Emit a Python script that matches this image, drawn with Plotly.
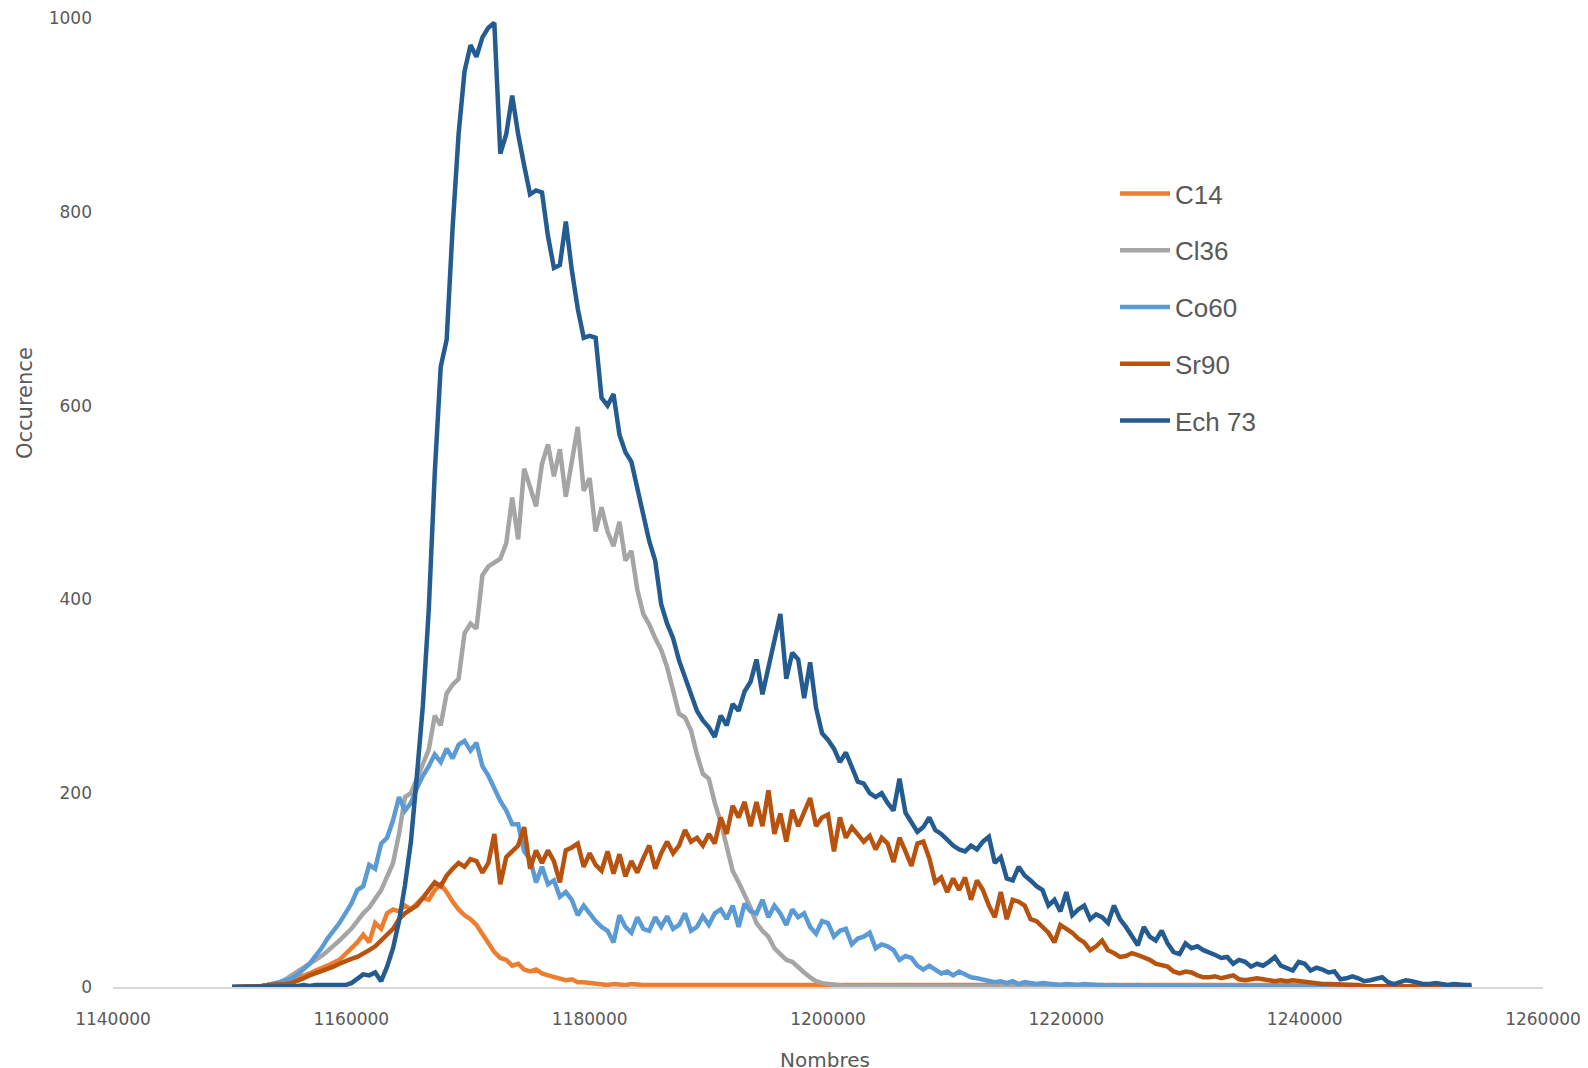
import plotly.graph_objects as go

# ---- data ----
X_START = 1150000
X_STEP = 500

ech73 = [
    0, 0, 1, 0, 1, 1, 0, 1, 1, 1,
    1, 1, 2, 1, 2, 2, 2, 2, 3, 2,
    4, 8, 13, 12, 15, 6, 21, 40, 68, 105,
    150, 218, 290, 390, 530, 640, 668, 784, 880, 945,
    972, 960, 980, 990, 995, 860, 880, 920, 880, 848,
    818, 822, 820, 775, 742, 745, 790, 740, 700, 670,
    672, 670, 608, 600, 612, 570, 552, 542, 515, 490,
    460, 440, 395, 375, 360, 337, 320, 303, 285, 275,
    268, 258, 280, 270, 292, 285, 305, 315, 338, 302,
    330, 355, 385, 318, 345, 338, 298, 335, 288, 262,
    255, 246, 232, 242, 228, 212, 210, 200, 196, 200,
    190, 182, 215, 180, 170, 160, 165, 175, 162, 158,
    152, 146, 142, 140, 146, 142, 150, 155, 128, 134,
    112, 110, 124, 115, 110, 104, 100, 84, 90, 78,
    98, 74, 80, 84, 70, 75, 72, 66, 84, 70,
    62, 52, 43, 62, 52, 48, 58, 45, 36, 34,
    45, 40, 42, 38, 36, 33, 30, 31, 24, 28,
    26, 21, 24, 22, 26, 31, 22, 20, 17, 26,
    24, 17, 20, 18, 15, 16, 8, 9, 11, 9,
    6, 7, 9, 10, 5, 3, 5, 7, 6, 4,
    3, 3, 4, 3, 2, 3, 2, 2, 2,
]

sr90 = [
    0, 0, 0, 1, 1, 1, 2, 2, 3, 3,
    4, 6, 9, 12, 14, 17, 19, 21, 24, 27,
    29, 31, 34, 38, 42, 48, 55, 60, 70, 76,
    80, 84, 92, 100, 108, 104, 115, 122, 128, 124,
    132, 130, 118, 128, 158, 106, 134, 140, 146, 165,
    122, 141, 128, 141, 130, 108, 141, 144, 148, 124,
    138, 126, 120, 140, 117, 137, 114, 130, 118, 133,
    146, 122, 138, 150, 138, 146, 162, 150, 154, 146,
    158, 148, 175, 158, 187, 175, 191, 166, 191, 166,
    203, 158, 179, 150, 183, 166, 180, 195, 166, 175,
    178, 140, 175, 154, 165, 158, 150, 156, 142, 154,
    148, 129, 154, 140, 125, 148, 150, 133, 108, 113,
    98, 112, 100, 113, 90, 110, 100, 84, 72, 98,
    70, 90, 88, 84, 70, 68, 62, 56, 46, 64,
    60, 56, 50, 46, 38, 42, 48, 38, 35, 31,
    32, 35, 33, 31, 28, 24, 22, 21, 16, 14,
    16, 15, 12, 10, 10, 11, 9, 10, 12, 8,
    7, 8, 9, 8, 7, 6, 7, 6, 7, 6,
    5, 5, 4, 3, 3, 3, 2, 2, 2, 2,
    1, 1, 1, 1, 1, 0, 0, 0, 0, 0,
    0, 0, 0, 0, 0, 0, 0, 0, 0,
]

co60 = [
    0, 0, 0, 0, 1, 1, 2, 3, 5, 7,
    9, 13, 18, 24, 32, 40, 50, 58, 66, 76,
    86, 100, 104, 126, 122, 148, 154, 172, 196, 182,
    190, 205, 218, 228, 240, 232, 246, 236, 250, 254,
    244, 252, 228, 218, 205, 192, 182, 168, 168, 140,
    132, 108, 124, 106, 110, 93, 98, 90, 74, 84,
    76, 68, 62, 58, 46, 74, 62, 56, 72, 60,
    58, 72, 62, 73, 60, 64, 76, 58, 62, 73,
    64, 76, 80, 70, 84, 62, 86, 78, 76, 90,
    72, 84, 76, 64, 80, 72, 76, 62, 55, 68,
    66, 52, 58, 60, 44, 50, 52, 56, 40, 44,
    42, 38, 28, 32, 30, 22, 18, 22, 18, 14,
    16, 12, 16, 13, 10, 9, 8, 7, 5, 6,
    4, 6, 3, 5, 4, 3, 4, 3, 3, 2,
    3, 2, 2, 3, 2, 2, 2, 1, 2, 1,
    1, 1, 2, 1, 1, 1, 1, 1, 0, 1,
    0, 0, 1, 0, 0, 0, 0, 0, 0, 0,
    0, 0, 0, 0, 0, 0, 0, 0, 0, 0,
    0, 0, 0, 0, 0, 0, 0, 0, 0, 0,
    0, 0, 0, 0, 0, 0, 0, 0, 0, 0,
    0, 0, 0, 0, 0, 0, 0, 0, 0,
]

cl36 = [
    0, 0, 0, 0, 1, 1, 2, 3, 5, 8,
    12, 15, 20, 23, 28, 32, 37, 42, 48, 54,
    60, 68, 76, 82, 92, 100, 114, 128, 158, 196,
    200, 215, 230, 245, 280, 270, 303, 312, 318, 365,
    375, 370, 425, 434, 438, 442, 458, 505, 462, 535,
    516, 496, 540, 560, 527, 555, 506, 540, 578, 512,
    525, 470, 495, 470, 455, 480, 440, 450, 410, 385,
    374, 360, 348, 330, 305, 282, 278, 265, 240, 220,
    215, 190, 170, 145, 120, 108, 96, 82, 66, 58,
    52, 40, 34, 28, 26, 20, 15, 10, 6, 4,
    3, 2, 2, 1, 1, 1, 1, 1, 0, 1,
    0, 0, 0, 0, 0, 0, 0, 0, 0, 0,
    0, 0, 0, 0, 0, 0, 0, 0, 0, 0,
    0, 0, 0, 0, 0, 0, 0, 0, 0, 0,
    0, 0, 0, 0, 0, 0, 0, 0, 0, 0,
    0, 0, 0, 0, 0, 0, 0, 0, 0, 0,
    0, 0, 0, 0, 0, 0, 0, 0, 0, 0,
    0, 0, 0, 0, 0, 0, 0, 0, 0, 0,
    0, 0, 0, 0, 0, 0, 0, 0, 0, 0,
    0, 0, 0, 0, 0, 0, 0, 0, 0, 0,
    0, 0, 0, 0, 0, 0, 0, 0, 0,
]

c14 = [
    0, 0, 0, 0, 1, 1, 2, 2, 3, 5,
    7, 9, 11, 14, 17, 19, 22, 25, 28, 34,
    40, 46, 54, 46, 66, 60, 76, 80, 78, 84,
    80, 86, 92, 90, 100, 106, 98, 88, 80, 74,
    70, 64, 55, 46, 36, 30, 28, 22, 24, 18,
    16, 18, 14, 12, 10, 8, 7, 8, 5, 5,
    4, 3, 3, 2, 3, 2, 2, 3, 2, 2,
    2, 2, 3, 2, 2, 2, 3, 2, 2, 2,
    2, 2, 3, 2, 2, 2, 3, 2, 2, 2,
    2, 2, 3, 2, 2, 2, 3, 2, 2, 2,
    2, 2, 3, 2, 2, 2, 3, 2, 2, 2,
    2, 2, 3, 2, 2, 2, 3, 2, 2, 2,
    2, 2, 3, 2, 2, 2, 3, 2, 2, 2,
    2, 2, 3, 2, 2, 2, 3, 2, 2, 2,
    2, 2, 3, 2, 2, 2, 3, 2, 2, 2,
    2, 2, 3, 2, 2, 2, 3, 2, 2, 2,
    2, 2, 3, 2, 2, 2, 3, 2, 2, 2,
    2, 2, 3, 2, 2, 2, 3, 2, 2, 2,
    2, 2, 1, 2, 1, 1, 1, 1, 1, 1,
    1, 0, 0, 0, 0, 0, 0, 0, 0, 0,
    0, 0, 0, 0, 0, 0, 0, 0, 0,
]

series_names = ["C14", "Cl36", "Co60", "Sr90", "Ech 73"]
series_values = [c14, cl36, co60, sr90, ech73]
series_colors = ["#ED7D31", "#A5A5A5", "#5B9BD5", "#B8520F", "#245C91"]

x_tick_vals = [1140000, 1160000, 1180000, 1200000, 1220000, 1240000, 1260000]
y_tick_vals = [0, 200, 400, 600, 800, 1000]

# ---- figure ----
fig = go.Figure()
for name, vals, col in zip(series_names, series_values, series_colors):
    xs = [X_START + X_STEP * i for i in range(len(vals))]
    fig.add_trace(go.Scatter(
        x=xs, y=vals, mode="lines", name=name, legendgroup=name,
        line=dict(color=col, width=4.5),
    ))

# The page body has an 8px margin, so the figure is made 8px smaller and
# all window positions below are given minus that offset.
OFF = 8
W, H = 1588 - OFF, 1068 - OFF
L, T = 113 - OFF, 18 - OFF
R = W - (1543 - OFF)
B = H - (987 - OFF)
pw = W - L - R
ph = H - T - B

def px_x(p):
    return (p - OFF - L) / pw

def px_y(p):
    return (H - B - (p - OFF)) / ph

tick_font = dict(family="DejaVu Sans", size=17, color="#595959")

fig.update_layout(
    width=W, height=H,
    margin=dict(l=L, r=R, t=T, b=B, pad=0, autoexpand=False),
    paper_bgcolor="white", plot_bgcolor="white",
    showlegend=True,
    legend=dict(
        x=px_x(1115), y=px_y(170), xanchor="left", yanchor="top",
        font=dict(family="Liberation Sans", size=26, color="#595959"),
        bgcolor="rgba(0,0,0,0)", borderwidth=0,
        traceorder="grouped", tracegroupgap=20, itemwidth=50,
    ),
    xaxis=dict(
        range=[1140000, 1260000], tickvals=x_tick_vals,
        ticktext=[str(v) for v in x_tick_vals],
        showgrid=False, zeroline=False, showline=True,
        linecolor="#D9D9D9", linewidth=1.5, ticks="",
        tickfont=tick_font, ticklabelstandoff=16, automargin=False,
        ticklabeloverflow="allow",
    ),
    yaxis=dict(
        range=[0, 1000], tickvals=y_tick_vals,
        ticktext=[str(v) for v in y_tick_vals],
        showgrid=False, zeroline=False, showline=False, ticks="",
        tickfont=tick_font, ticklabelstandoff=20, automargin=False,
        ticklabeloverflow="allow",
    ),
    annotations=[
        dict(text="Occurence", xref="paper", yref="paper",
             x=px_x(25), y=px_y(403), xanchor="center", yanchor="middle",
             textangle=-90, showarrow=False,
             font=dict(family="DejaVu Sans", size=21, color="#595959")),
        dict(text="Nombres", xref="paper", yref="paper",
             x=px_x(825), y=px_y(1060), xanchor="center", yanchor="middle",
             showarrow=False,
             font=dict(family="DejaVu Sans", size=20, color="#595959")),
    ],
)

fig.write_html("out.html")
